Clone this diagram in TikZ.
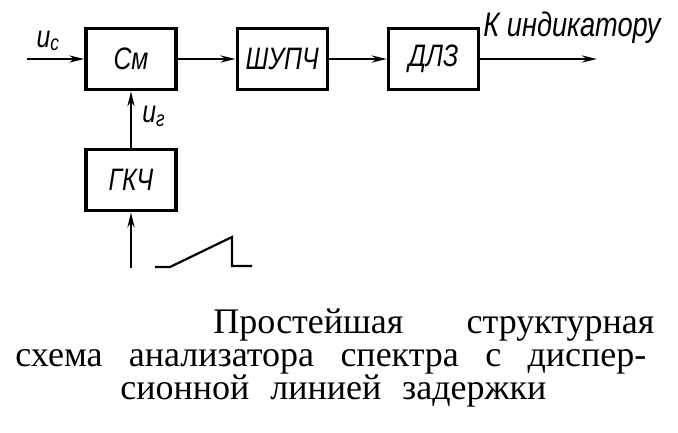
\documentclass[tikz,border=0pt]{standalone}
\usepackage{fontspec}
\usepackage{tikz}
\usetikzlibrary{positioning,arrows.meta}
\setmainfont{Liberation Serif}
\newfontfamily\blkfont{Liberation Sans}[FakeStretch=0.8]

\begin{document}
\begin{tikzpicture}[x=1pt, y=-1pt, thick,
    block/.style = {draw, line width=3.2pt, minimum width=90pt, minimum height=61pt,
                    font=\blkfont\itshape\fontsize{31}{31}\selectfont},
    sig/.style = {line width=2.6pt, -{Stealth[length=15pt, width=7pt]}},
    lbl/.style = {font=\blkfont\itshape\fontsize{31}{31}\selectfont, inner sep=0pt},
    captext/.style = {font=\fontsize{36}{33}\selectfont, inner sep=0pt, text width=640pt, align=left}]
    \useasboundingbox (0,0) rectangle (678,432);

        \node[block] (cm) at (131,59) {См};
        \node[block] (shupch) [right=58pt of cm] {ШУПЧ};
        \node[block] (dlz) [right=58pt of shupch] {ДЛЗ};
        \node[block] (gkch) [below=57pt of cm] {ГКЧ};

        \coordinate (in) at (27,59);
        \coordinate (out) at (597,59);
        \coordinate (bot) at (131,268);

        \draw[sig] (in) -- (cm);
        \draw[sig] (cm) -- (shupch);
        \draw[sig] (shupch) -- (dlz);
        \draw[sig] (dlz) -- (out);
        \draw[sig] (gkch) -- (cm) node [pos=0.55, right=10pt, lbl] {u\textsubscript{г}};
        \draw[sig] (bot) -- (gkch);

        \node[lbl] (uc) at (48,41) {u\textsubscript{с}};
        \node[lbl, anchor=base west, font=\blkfont\itshape\fontsize{34}{34}\selectfont] (ind) at (483,36) {К индикатору};

        % sawtooth
        \draw[line width=2.2pt] (155,267) -- (170,267) -- (232,237) -- (232,266) -- (252,266);

        \node[captext, anchor=north west] (caption) at (15,308)
            {\hspace*{198pt}\makebox[441pt]{Простейшая\hfill структурная}\\
             \makebox[631pt]{схема\hfill анализатора\hfill спектра\hfill с\hfill диспер-}\\
             \hspace*{105pt}\makebox[426pt]{сионной\hfill линией\hfill задержки}};

    \end{tikzpicture}
\end{document}
